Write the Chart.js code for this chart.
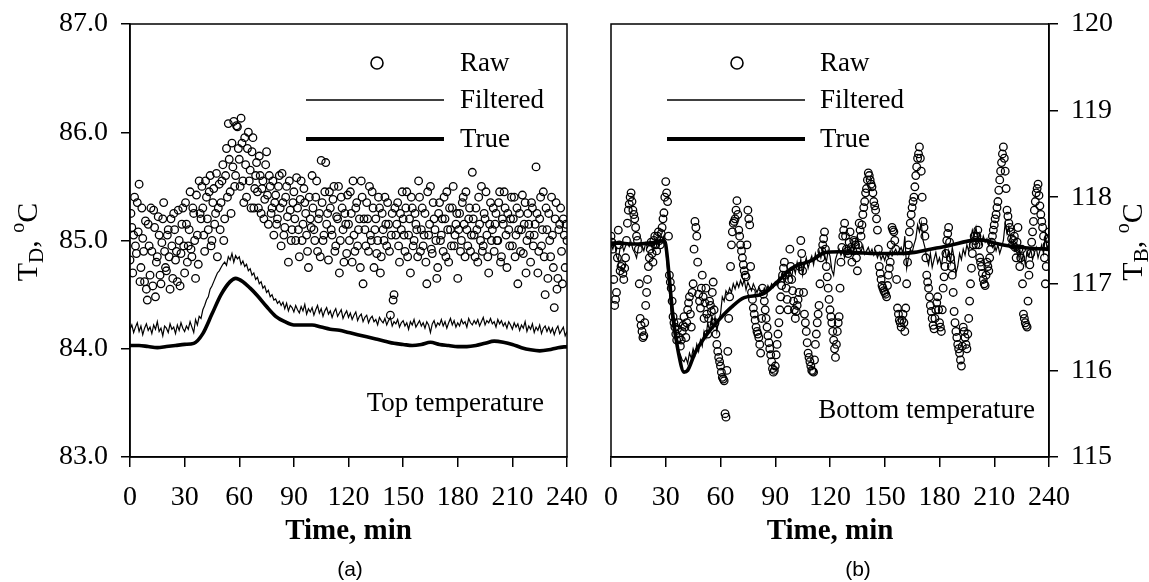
<!DOCTYPE html>
<html>
<head>
<meta charset="utf-8">
<title>Top and bottom temperature</title>
<script src="https://cdn.jsdelivr.net/npm/chart.js@4.4.1/dist/chart.umd.min.js"></script>
<style>
  body { margin: 0; background: #fff; }
  #wrap { position: relative; width: 1149px; height: 582px; }
  canvas { position: absolute; top: 0; }
  #topChart { left: 0; }
  #bottomChart { left: 580px; }
</style>
</head>
<body>
<div id="wrap">
  <canvas id="topChart" width="600" height="582"></canvas>
  <canvas id="bottomChart" width="569" height="582"></canvas>
</div>
<script>
// Raw samples come every half minute: the "Raw" arrays hold the readings at
// whole minutes (0..240), the "RawMid" arrays the ones in between (0.5..239.5).
// Filtered estimates are one per minute from t = 0.

// (a) top temperature TD
const topRaw = [
  84.82, 85.12, 85.05, 84.95, 85.35, 85.52, 84.75, 85.02, 84.62, 84.55,
  85.15, 84.68, 84.90, 85.28, 84.48, 84.85, 85.05, 84.60, 85.20, 84.90,
  84.72, 85.10, 84.55, 84.95, 85.25, 84.82, 84.62, 85.00, 84.88, 85.30,
  84.70, 85.15, 84.95, 85.45, 84.85, 85.25, 84.65, 85.05, 85.55, 85.20,
  85.30, 84.90, 85.40, 85.10, 85.60, 85.00, 85.48, 85.25, 84.85, 85.52,
  85.35, 85.70, 85.20, 85.85, 86.08, 85.45, 85.90, 86.10, 85.60, 86.05,
  85.75, 86.13, 85.55, 85.95, 85.40, 86.00, 85.65, 85.82, 85.30, 85.60,
  85.45, 85.78, 85.25, 85.55, 85.38, 85.82, 85.15, 85.50, 85.30, 85.05,
  85.42, 85.20, 85.60, 84.95, 85.35, 85.12, 85.50, 84.80, 85.28, 85.10,
  85.45, 85.00, 85.30, 84.85, 85.55, 85.15, 85.35, 85.05, 84.75, 85.20,
  85.60, 85.10, 85.40, 84.90, 85.25, 85.74, 85.00, 85.45, 85.15, 84.82,
  85.30, 85.05, 85.50, 84.95, 85.20, 84.70, 85.40, 85.10, 85.25, 84.88,
  85.15, 85.45, 84.80, 85.05, 85.30, 84.95, 85.20, 85.55, 84.60, 85.10,
  85.35, 84.90, 85.05, 85.45, 84.75, 85.20, 85.00, 85.30, 84.85, 85.10,
  85.40, 84.95, 85.15, 84.31, 85.25, 84.50, 85.05, 85.35, 84.80, 85.10,
  85.20, 84.90, 85.45, 85.05, 84.70, 85.30, 85.00, 85.15, 84.85, 85.40,
  85.10, 84.95, 85.25, 84.60, 85.05, 85.50, 84.88, 85.20, 85.00, 84.75,
  85.35, 85.05, 84.90, 85.20, 85.45, 84.80, 85.10, 85.30, 84.95, 85.15,
  84.65, 85.25, 85.00, 85.40, 84.85, 85.10, 85.20, 84.90, 85.63, 85.05,
  85.30, 84.80, 85.15, 85.50, 84.95, 85.20, 85.05, 84.70, 85.35, 85.10,
  84.90, 85.25, 85.00, 85.45, 84.85, 85.15, 85.30, 84.75, 85.10, 85.20,
  84.95, 85.40, 85.05, 84.60, 85.25, 85.10, 84.88, 85.35, 85.00, 85.15,
  84.80, 85.30, 85.05, 85.68, 84.70, 85.20, 84.95, 85.45, 84.50, 85.10,
  85.25, 84.85, 85.05, 84.38, 85.35, 84.65, 85.15, 84.90, 85.20, 84.75, 85.00
];
const topRawMid = [
  85.25, 84.70, 85.40, 84.88, 85.08, 84.62, 85.30, 84.90, 85.18, 84.45,
  84.95, 85.30, 84.58, 85.12, 84.80, 85.22, 84.68, 84.98, 85.35, 84.75,
  85.05, 84.85, 85.20, 84.65, 85.10, 84.90, 85.28, 84.58, 85.15, 84.95,
  85.35, 84.80, 85.10, 84.92, 85.30, 85.00, 85.42, 84.78, 85.25, 85.50,
  85.05, 85.55, 85.20, 85.45, 84.95, 85.35, 85.15, 85.62, 85.30, 85.10,
  85.55, 85.00, 85.60, 85.40, 85.75, 85.25, 85.68, 85.50, 86.06, 85.85,
  85.50, 85.90, 85.35, 85.70, 85.85, 85.55, 85.30, 85.95, 85.48, 85.72,
  85.30, 85.60, 85.48, 85.20, 85.70, 85.42, 85.60, 85.25, 85.55, 85.35,
  85.15, 85.50, 85.30, 85.62, 85.05, 85.40, 85.22, 85.55, 85.00, 85.35,
  85.20, 85.58, 85.10, 85.38, 85.00, 85.48, 85.25, 84.90, 85.40, 85.12,
  85.30, 85.00, 85.55, 85.20, 84.85, 85.35, 85.05, 85.72, 85.25, 85.45,
  85.10, 85.38, 84.90, 85.22, 85.50, 85.00, 85.30, 84.80, 85.15, 85.42,
  85.00, 85.25, 85.55, 84.90, 85.35, 85.10, 84.75, 85.40, 85.20, 84.95,
  85.20, 85.50, 85.00, 85.30, 85.10, 84.88, 85.40, 84.70, 85.25, 85.00,
  85.15, 85.35, 84.90, 85.05, 84.45, 85.30, 85.15, 84.95, 85.25, 85.45,
  85.05, 85.30, 84.85, 85.20, 85.40, 84.95, 85.25, 85.10, 85.55, 84.90,
  85.30, 85.05, 84.80, 85.45, 85.15, 84.92, 85.35, 85.10, 84.65, 85.25,
  85.00, 85.20, 85.40, 84.85, 85.10, 85.30, 84.95, 85.50, 85.05, 85.25,
  85.10, 84.90, 85.35, 85.15, 85.45, 84.95, 85.30, 85.05, 85.20, 84.85,
  85.10, 85.40, 85.00, 84.90, 85.25, 85.45, 84.85, 85.15, 85.00, 85.30,
  85.15, 85.00, 85.35, 84.80, 85.20, 85.45, 85.05, 85.25, 84.95, 85.40,
  85.20, 84.85, 85.30, 85.10, 84.90, 85.42, 85.15, 84.70, 85.25, 85.05,
  85.35, 84.95, 85.15, 85.25, 84.90, 85.40, 85.10, 84.85, 85.30, 84.65,
  85.00, 85.40, 84.75, 85.20, 84.55, 85.10, 85.30, 84.60, 85.05, 85.15
];
const topFiltered = [
  84.18, 84.22, 84.15, 84.20, 84.24, 84.16, 84.21, 84.13, 84.19, 84.23,
  84.17, 84.20, 84.14, 84.22, 84.18, 84.25, 84.16, 84.19, 84.12, 84.21,
  84.19, 84.15, 84.23, 84.18, 84.20, 84.14, 84.22, 84.17, 84.24, 84.19,
  84.16, 84.21, 84.18, 84.25, 84.20, 84.15, 84.27, 84.22, 84.30, 84.28,
  84.36, 84.40, 84.45, 84.48, 84.55, 84.58, 84.62, 84.66, 84.70, 84.72,
  84.75, 84.78, 84.80, 84.77, 84.85, 84.82, 84.88, 84.80, 84.86, 84.83,
  84.85, 84.78, 84.81, 84.76, 84.78, 84.72, 84.74, 84.68, 84.70, 84.64,
  84.66, 84.60, 84.62, 84.56, 84.58, 84.52, 84.54, 84.48, 84.50, 84.45,
  84.46, 84.42, 84.44, 84.40, 84.43, 84.37, 84.42, 84.35, 84.40, 84.38,
  84.34, 84.40, 84.36, 84.33, 84.39, 84.35, 84.41, 84.32, 84.37, 84.34,
  84.38, 84.31, 84.36, 84.40, 84.33, 84.37, 84.30, 84.35, 84.38, 84.32,
  84.35, 84.29, 84.34, 84.37, 84.30, 84.33, 84.36, 84.28, 84.32, 84.35,
  84.29, 84.33, 84.27, 84.31, 84.34, 84.26, 84.30, 84.32, 84.25, 84.29,
  84.31, 84.24, 84.28, 84.30, 84.25, 84.27, 84.22, 84.29, 84.26, 84.24,
  84.28, 84.22, 84.26, 84.29, 84.21, 84.25, 84.23, 84.27, 84.20, 84.24,
  84.26, 84.21, 84.24, 84.18, 84.25, 84.22, 84.27, 84.20, 84.23, 84.26,
  84.21, 84.24, 84.19, 84.25, 84.22, 84.15, 84.23, 84.26, 84.20, 84.24,
  84.22, 84.27, 84.21, 84.25, 84.19, 84.24, 84.28, 84.22, 84.26, 84.20,
  84.24, 84.21, 84.27, 84.23, 84.25, 84.20, 84.28, 84.24, 84.22, 84.26,
  84.23, 84.27, 84.21, 84.25, 84.29, 84.22, 84.26, 84.24, 84.28, 84.23,
  84.25, 84.20, 84.27, 84.23, 84.26, 84.21, 84.24, 84.19, 84.25, 84.22,
  84.18, 84.24, 84.20, 84.23, 84.17, 84.22, 84.19, 84.25, 84.16, 84.21,
  84.18, 84.23, 84.15, 84.20, 84.17, 84.22, 84.14, 84.19, 84.21, 84.16,
  84.20, 84.15, 84.19, 84.13, 84.18, 84.21, 84.14, 84.17, 84.20, 84.12, 84.16
];
const topTrueTime = [0, 5, 10, 15, 20, 25, 30, 35, 40, 45, 50, 55, 58, 62, 66, 70, 75, 80, 85, 90,
  95, 100, 105, 110, 115, 120, 125, 130, 135, 140, 145, 150, 155, 160, 165, 170, 175, 180,
  185, 190, 195, 200, 205, 210, 215, 220, 225, 230, 235, 240];
const topTrue = [84.03, 84.03, 84.02, 84.01, 84.02, 84.03, 84.04, 84.05, 84.14, 84.32, 84.50, 84.62, 84.65, 84.62, 84.56, 84.49, 84.39, 84.30, 84.25, 84.22,
  84.22, 84.22, 84.20, 84.18, 84.17, 84.15, 84.13, 84.11, 84.09, 84.07, 84.05, 84.04, 84.03, 84.04, 84.06, 84.04, 84.03, 84.02,
  84.02, 84.03, 84.05, 84.07, 84.06, 84.04, 84.01, 83.99, 83.98, 83.99, 84.01, 84.02];

// (b) bottom temperature TB
const bottomRaw = [
  117.55, 117.40, 116.75, 116.90, 117.62, 117.15, 117.22, 117.05, 117.30, 117.70,
  117.92, 118.05, 117.85, 117.75, 117.55, 117.40, 116.60, 116.45, 116.40, 116.75,
  117.05, 117.30, 117.48, 117.25, 117.55, 117.38, 117.60, 117.45, 117.65, 117.82,
  118.18, 117.95, 117.10, 116.95, 116.62, 116.50, 116.35, 116.55, 116.28, 116.45,
  116.62, 116.38, 116.70, 116.85, 116.50, 117.00, 117.72, 117.55, 116.88, 116.72,
  117.10, 116.60, 116.95, 116.42, 116.80, 116.68, 117.02, 116.55, 116.30, 116.15,
  116.05, 115.92, 115.88, 115.46, 116.22, 116.85, 117.45, 117.70, 117.75, 117.96,
  117.62, 117.45, 117.30, 117.15, 117.08, 117.85, 117.68, 116.90, 116.72, 116.58,
  116.45, 116.38, 116.20, 116.95, 116.80, 116.60, 116.40, 116.25, 116.10, 115.98,
  116.05, 116.30, 116.55, 116.85, 117.10, 117.25, 116.95, 116.70, 117.40, 117.05,
  116.80, 116.60, 116.75, 116.90, 117.50, 117.15, 116.65, 116.45, 116.20, 116.10,
  116.00, 115.98, 116.30, 116.55, 116.75, 117.30, 117.45, 117.60, 117.20, 116.95,
  116.70, 116.55, 116.35, 116.15, 116.45, 116.62, 117.25, 117.55, 117.70, 117.40,
  117.35, 117.60, 117.25, 117.50, 117.45, 117.15, 117.70, 117.55, 117.80, 117.95,
  118.10, 118.28, 118.20, 118.12, 117.95, 117.85, 117.62, 117.20, 117.05, 116.95,
  116.90, 116.85, 117.10, 117.25, 117.65, 117.60, 117.40, 116.72, 116.58, 116.50,
  116.65, 116.45, 117.00, 117.45, 117.70, 117.88, 118.00, 118.25, 118.45, 118.58,
  118.30, 117.72, 117.55, 117.10, 116.95, 116.75, 116.60, 116.48, 116.70, 116.85,
  116.55, 116.45, 116.95, 117.20, 117.50, 117.65, 117.30, 117.10, 116.68, 116.45,
  116.30, 116.20, 116.05, 116.50, 116.38, 116.25, 116.60, 117.00, 117.35, 117.55,
  117.45, 117.62, 117.30, 117.20, 117.05, 116.98, 117.25, 117.15, 117.40, 117.55,
  117.68, 117.80, 117.95, 118.20, 118.40, 118.58, 118.30, 117.85, 117.70, 117.60,
  117.45, 117.55, 117.30, 117.65, 117.20, 117.40, 116.65, 116.55, 116.50, 117.10,
  117.35, 117.60, 117.85, 118.05, 118.15, 117.90, 117.72, 117.55, 117.00, 117.45, 117.60
];
const bottomRawMid = [
  117.48, 117.05, 116.82, 117.30, 117.45, 117.20, 117.12, 117.18, 117.50, 117.85,
  118.00, 117.95, 117.80, 117.65, 117.50, 117.00, 116.52, 116.38, 116.55, 116.90,
  117.20, 117.40, 117.35, 117.50, 117.45, 117.55, 117.50, 117.58, 117.75, 118.00,
  118.05, 117.55, 117.02, 116.80, 116.55, 116.42, 116.48, 116.38, 116.35, 116.52,
  116.50, 116.55, 116.78, 116.65, 116.90, 117.40, 117.65, 117.25, 116.80, 116.95,
  116.85, 116.78, 116.65, 116.60, 116.75, 116.90, 116.70, 116.42, 116.22, 116.10,
  115.98, 115.90, 115.50, 116.00, 116.60, 117.20, 117.60, 117.72, 117.85, 117.80,
  117.55, 117.38, 117.22, 117.10, 117.45, 117.75, 117.20, 116.82, 116.65, 116.50,
  116.42, 116.30, 116.60, 116.88, 116.70, 116.50, 116.32, 116.18, 116.02, 116.00,
  116.18, 116.42, 116.70, 116.98, 117.18, 117.10, 116.82, 117.05, 117.20, 116.92,
  116.70, 116.68, 116.82, 117.20, 117.35, 116.90, 116.55, 116.32, 116.15, 116.05,
  115.99, 116.12, 116.42, 116.65, 117.00, 117.38, 117.52, 117.40, 117.08, 116.82,
  116.62, 116.45, 116.25, 116.30, 116.55, 116.95, 117.42, 117.62, 117.55, 117.38,
  117.48, 117.42, 117.38, 117.48, 117.30, 117.45, 117.62, 117.68, 117.88, 118.05,
  118.20, 118.25, 118.15, 118.05, 117.90, 117.75, 117.40, 117.12, 116.98, 116.92,
  116.88, 116.98, 117.18, 117.45, 117.62, 117.50, 117.05, 116.65, 116.55, 116.58,
  116.55, 116.72, 117.25, 117.60, 117.80, 117.95, 118.12, 118.35, 118.50, 118.45,
  118.00, 117.65, 117.30, 117.02, 116.85, 116.68, 116.52, 116.60, 116.78, 116.70,
  116.50, 116.70, 117.08, 117.35, 117.58, 117.48, 117.20, 116.90, 116.55, 116.38,
  116.25, 116.12, 116.28, 116.45, 116.30, 116.42, 116.80, 117.18, 117.45, 117.50,
  117.55, 117.45, 117.25, 117.12, 117.00, 117.10, 117.20, 117.30, 117.48, 117.62,
  117.75, 117.88, 118.08, 118.30, 118.50, 118.45, 118.10, 117.78, 117.65, 117.52,
  117.50, 117.42, 117.48, 117.40, 117.30, 117.00, 116.60, 116.52, 116.80, 117.22,
  117.48, 117.72, 117.95, 118.10, 118.02, 117.80, 117.65, 117.30, 117.20, 117.52
];
const bottomFiltered = [
  117.45, 117.40, 117.48, 117.32, 117.27, 117.42, 117.46, 117.38, 117.44, 117.47,
  117.43, 117.48, 117.40, 117.36, 117.30, 117.42, 117.46, 117.44, 117.38, 117.47,
  117.42, 117.48, 117.45, 117.38, 117.46, 117.50, 117.44, 117.52, 117.48, 117.55,
  117.42, 117.15, 116.90, 116.65, 116.50, 116.38, 116.30, 116.22, 116.18, 116.12,
  116.10, 116.15, 116.08, 116.20, 116.14, 116.25, 116.18, 116.30, 116.22, 116.35,
  116.28, 116.45, 116.38, 116.55, 116.46, 116.60, 116.50, 116.62, 116.45, 116.58,
  116.65, 116.85, 116.80, 116.92, 116.88, 116.95, 116.90, 117.00, 116.94, 117.02,
  116.96, 117.04, 116.98, 117.05, 116.93, 117.02, 116.97, 116.92, 117.00, 116.95,
  116.90, 116.96, 116.92, 116.88, 116.95, 116.90, 116.98, 116.93, 117.00, 116.96,
  117.02, 116.98, 117.08, 117.05, 117.12, 117.00, 117.10, 117.06, 117.15, 117.08,
  117.20, 117.12, 117.25, 117.15, 117.28, 117.10, 117.22, 117.30, 117.18, 117.26,
  117.32, 117.22, 117.35, 117.28, 117.38, 117.30, 117.40, 117.34, 117.25, 117.38,
  117.32, 117.16, 117.10, 117.28, 117.35, 117.40, 117.33, 117.38, 117.30, 117.36,
  117.40, 117.35, 117.45, 117.38, 117.50, 117.55, 117.42, 117.37, 117.44, 117.34,
  117.38, 117.42, 117.35, 117.40, 117.33, 117.38, 117.30, 117.36, 117.28, 117.33,
  117.27, 117.35, 117.30, 117.38, 117.32, 117.36, 117.40, 117.34, 117.38, 117.42,
  117.35, 117.55, 117.18, 117.30, 117.40, 117.36, 117.45, 117.52, 117.68, 117.60,
  117.70, 117.50, 117.42, 117.30, 117.22, 117.35, 117.19, 117.28, 117.36, 117.24,
  117.30, 117.20, 117.34, 117.40, 117.28, 117.38, 117.25, 117.42, 117.30, 117.12,
  117.20, 117.35, 117.28, 117.40, 117.33, 117.45, 117.38, 117.50, 117.62, 117.55,
  117.65, 117.50, 117.58, 117.46, 117.55, 117.48, 117.52, 117.44, 117.50, 117.42,
  117.46, 117.38, 117.45, 117.35, 117.42, 117.50, 117.70, 117.58, 117.66, 117.52,
  117.45, 117.38, 117.42, 117.30, 117.40, 117.25, 117.35, 117.22, 117.38, 117.32,
  117.40, 117.28, 117.36, 117.42, 117.30, 117.38, 117.45, 117.35, 117.55, 117.40, 117.48
];
const bottomTrueTime = [0, 5, 10, 15, 20, 25, 29, 30, 34, 37, 40, 42, 46, 52, 59, 66, 73, 83, 91, 99,
  110, 117, 125, 135, 145, 155, 165, 175, 185, 195, 200, 205, 210, 220, 230, 240];
const bottomTrue = [117.47, 117.47, 117.46, 117.46, 117.47, 117.48, 117.50, 117.45, 116.62, 116.20, 115.98, 116.00, 116.20, 116.40, 116.58, 116.73, 116.84, 116.88, 117.02, 117.18,
  117.27, 117.36, 117.37, 117.36, 117.35, 117.35, 117.36, 117.40, 117.44, 117.49, 117.51, 117.50, 117.47, 117.43, 117.41, 117.40];

const timeTicks = [0, 30, 60, 90, 120, 150, 180, 210, 240];

const serif = "'Liberation Serif', 'Times New Roman', serif";
const sans = "'Liberation Sans', Arial, sans-serif";

function rawPoints(whole, mid) {
  const pts = whole.map((v, i) => ({ x: i, y: v }));
  mid.forEach((v, i) => pts.push({ x: i + 0.5, y: v }));
  return pts;
}

function perMinute(values) {
  return values.map((v, i) => ({ x: i, y: v }));
}

function pairUp(times, values) {
  return times.map((t, i) => ({ x: t, y: values[i] }));
}

// frame, legend, annotations and axis titles drawn straight onto the canvas
const decor = {
  id: 'decor',
  afterDraw(chart, args, o) {
    const { ctx, chartArea: a } = chart;
    ctx.save();
    ctx.strokeStyle = '#000';
    ctx.lineWidth = 1.5;
    ctx.strokeRect(a.left, a.top, a.right - a.left, a.bottom - a.top);

    // legend
    ctx.fillStyle = '#000';
    ctx.font = '27px ' + serif;
    ctx.textAlign = 'left';
    ctx.textBaseline = 'middle';
    ctx.lineWidth = 1.6;
    ctx.beginPath();
    ctx.arc(a.left + o.legend.circle, 63, 6, 0, Math.PI * 2);
    ctx.stroke();
    ctx.beginPath();
    ctx.moveTo(a.left + o.legend.x0, 100);
    ctx.lineTo(a.left + o.legend.x1, 100);
    ctx.lineWidth = 1.3;
    ctx.stroke();
    ctx.beginPath();
    ctx.moveTo(a.left + o.legend.x0, 139);
    ctx.lineTo(a.left + o.legend.x1, 139);
    ctx.lineWidth = 3.8;
    ctx.stroke();
    ctx.fillText('Raw', a.left + o.legend.text, 64);
    ctx.fillText('Filtered', a.left + o.legend.text, 101);
    ctx.fillText('True', a.left + o.legend.text, 140);

    // panel note
    ctx.textAlign = 'right';
    ctx.fillText(o.note, a.right - o.noteRight, o.noteY);

    // x title and panel tag
    ctx.textAlign = 'center';
    ctx.font = 'bold 29px ' + serif;
    ctx.fillText('Time, min', (a.left + a.right) / 2, 532);
    ctx.font = '21px ' + sans;
    ctx.fillText(o.tag, o.tagX, 570);

    // rotated y title with subscript and superscript
    const parts = [
      { t: 'T', f: '30px ' + serif, dy: 0 },
      { t: o.sub, f: '21px ' + serif, dy: 6 },
      { t: ', ', f: '30px ' + serif, dy: 0 },
      { t: 'o', f: '20px ' + serif, dy: -13 },
      { t: 'C', f: '30px ' + serif, dy: 0 }
    ];
    let w = 0;
    parts.forEach(p => { ctx.font = p.f; p.w = ctx.measureText(p.t).width; w += p.w; });
    ctx.translate(o.titleX, 242);
    ctx.rotate(-Math.PI / 2);
    ctx.textAlign = 'left';
    ctx.textBaseline = 'alphabetic';
    let x = -w / 2;
    parts.forEach(p => {
      ctx.font = p.f;
      ctx.fillText(p.t, x, p.dy);
      x += p.w;
    });
    ctx.restore();
  }
};

function buildChart(canvasId, cfg) {
  return new Chart(document.getElementById(canvasId), {
    type: 'scatter',
    data: {
      datasets: [
        {
          label: 'True',
          type: 'line',
          data: pairUp(cfg.trueTime, cfg.trueValues),
          borderColor: '#000',
          borderWidth: 3.6,
          pointRadius: 0,
          cubicInterpolationMode: 'monotone',
          fill: false,
          order: 0
        },
        {
          label: 'Filtered',
          type: 'line',
          data: perMinute(cfg.filtered),
          borderColor: '#000',
          borderWidth: 1.2,
          pointRadius: 0,
          tension: 0,
          fill: false,
          order: 1
        },
        {
          label: 'Raw',
          data: rawPoints(cfg.raw, cfg.rawMid),
          showLine: false,
          pointStyle: 'circle',
          pointRadius: 3.8,
          pointBorderWidth: 1.3,
          pointBorderColor: '#000',
          pointBackgroundColor: 'rgba(0,0,0,0)',
          order: 2
        }
      ]
    },
    options: {
      responsive: false,
      animation: false,
      devicePixelRatio: 1,
      layout: { padding: cfg.padding },
      plugins: {
        legend: { display: false },
        tooltip: { enabled: false },
        decor: cfg.decor
      },
      scales: {
        x: {
          type: 'linear',
          min: 0,
          max: 240,
          afterBuildTicks: s => { s.ticks = timeTicks.map(v => ({ value: v })); },
          afterFit: s => { s.height = 125; s.paddingLeft = 0; s.paddingRight = 0; },
          grid: { drawOnChartArea: false, drawTicks: true, tickLength: 10, color: '#000', lineWidth: 1.5 },
          border: { display: true, color: '#000', width: 1.5 },
          ticks: { color: '#000', font: { family: serif, size: 28 }, padding: 14, maxRotation: 0, autoSkip: false }
        },
        y: {
          position: cfg.yPosition,
          min: cfg.yMin,
          max: cfg.yMax,
          afterFit: s => { s.width = cfg.yWidth; s.paddingTop = 0; s.paddingBottom = 0; },
          grid: { drawOnChartArea: false, drawTicks: true, tickLength: 9, color: '#000', lineWidth: 1.5 },
          border: { display: true, color: '#000', width: 1.5 },
          ticks: {
            stepSize: 1,
            color: '#000',
            font: { family: serif, size: 28 },
            padding: cfg.yPad,
            callback: cfg.yFormat
          }
        }
      }
    },
    plugins: [decor]
  });
}

buildChart('topChart', {
  raw: topRaw,
  rawMid: topRawMid,
  filtered: topFiltered,
  trueTime: topTrueTime,
  trueValues: topTrue,
  yMin: 83,
  yMax: 87,
  yPosition: 'left',
  yWidth: 130,
  yPad: 13,
  yFormat: v => v.toFixed(1),
  padding: { left: 0, right: 33, top: 24, bottom: 0 },
  decor: {
    legend: { circle: 247, x0: 176, x1: 314, text: 330 },
    note: 'Top temperature',
    noteRight: 23,
    noteY: 404,
    tag: '(a)',
    tagX: 350,
    sub: 'D',
    titleX: 37
  }
});

buildChart('bottomChart', {
  raw: bottomRaw,
  rawMid: bottomRawMid,
  filtered: bottomFiltered,
  trueTime: bottomTrueTime,
  trueValues: bottomTrue,
  yMin: 115,
  yMax: 120,
  yPosition: 'right',
  yWidth: 100,
  yPad: 13,
  yFormat: v => String(v),
  padding: { left: 31, right: 0, top: 24, bottom: 0 },
  decor: {
    legend: { circle: 126, x0: 56, x1: 194, text: 209 },
    note: 'Bottom temperature',
    noteRight: 14,
    noteY: 411,
    tag: '(b)',
    tagX: 278,
    sub: 'B',
    titleX: 562
  }
});
</script>
</body>
</html>
